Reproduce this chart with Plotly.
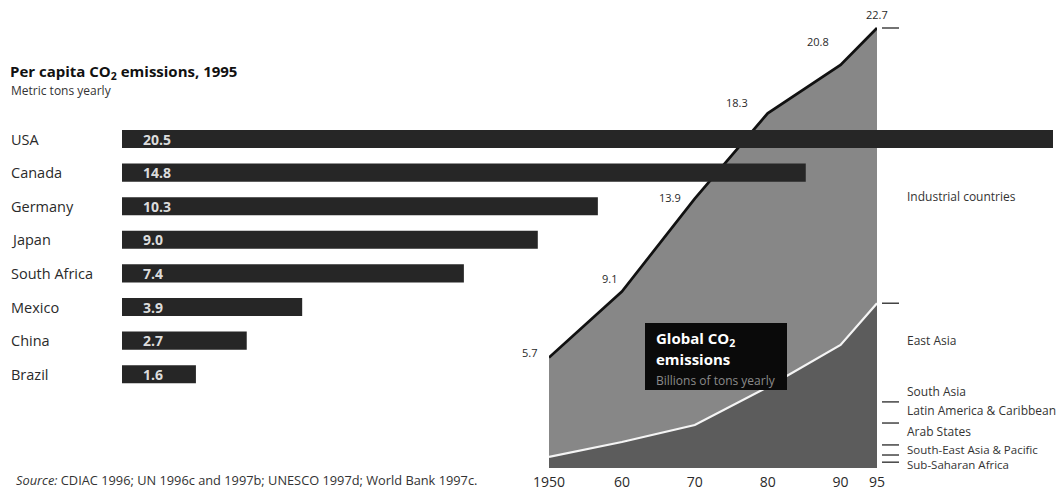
import plotly.graph_objects as go

W, H = 1058, 493

# Per capita emissions, 1995 (metric tons yearly)
countries = ["USA", "Canada", "Germany", "Japan", "South Africa", "Mexico", "China", "Brazil"]
per_capita = [20.5, 14.8, 10.3, 9.0, 7.4, 3.9, 2.7, 1.6]

# Global CO2 emissions (billions of tons yearly)
years = [1950, 1960, 1970, 1980, 1990, 1995]
global_total = [5.7, 9.1, 13.9, 18.3, 20.8, 22.7]
developing_total = [0.57, 1.34, 2.22, 4.18, 6.35, 8.5]
year_ticks = [1950, 1960, 1970, 1980, 1990, 1995]
year_tick_text = ["1950", "60", "70", "80", "90", "95"]

# Developing regions in 1995, stacked from the bottom
regions = ["Sub-Saharan Africa", "South-East Asia & Pacific", "Arab States",
           "Latin America & Caribbean", "South Asia", "East Asia"]
region_1995 = [0.3, 0.37, 0.52, 1.13, 1.09, 5.09]


def px(x):
    return x / W


def py(y):
    return 1 - y / H


FONT = "Open Sans"
TXT = "#2a2a2a"

fig = go.Figure()

# ---- stacked area: industrial (light) over developing (dark) ----
fig.add_trace(go.Scatter(
    x=years, y=global_total, mode="lines", fill="tozeroy",
    fillcolor="#878787", line=dict(color="#111111", width=2.7),
    xaxis="x", yaxis="y", hoverinfo="skip", showlegend=False))
fig.add_trace(go.Scatter(
    x=years, y=developing_total, mode="lines", fill="tozeroy",
    fillcolor="#5c5c5c", line=dict(width=0),
    xaxis="x", yaxis="y", hoverinfo="skip", showlegend=False))
fig.add_trace(go.Scatter(
    x=years, y=developing_total, mode="lines",
    line=dict(color="#f4f4f4", width=2.2),
    xaxis="x", yaxis="y", hoverinfo="skip", showlegend=False))

# ---- horizontal bars, drawn over the area chart ----
fig.add_trace(go.Bar(
    x=per_capita, y=countries, orientation="h",
    marker=dict(color="#262626", line=dict(width=0)),
    width=0.54, xaxis="x2", yaxis="y2", hoverinfo="skip", showlegend=False))

annotations = []

# country names and bar values
for c, v in zip(countries, per_capita):
    annotations.append(dict(
        x=px(9), xref="paper", y=c, yref="y2", text=c, showarrow=False,
        xanchor="left", yanchor="middle",
        font=dict(family=FONT, size=14.5, color=TXT)))
    annotations.append(dict(
        x=0, xref="x2", y=c, yref="y2", text=f"<b>{v:.1f}</b>", showarrow=False,
        xanchor="left", yanchor="middle", xshift=19,
        font=dict(family=FONT, size=14, color="#dcdcdc")))

# values along the global total line
value_offsets = [(-20, 5), (-12, 13), (-25, 1), (-31, 11), (-23, 23), (0, 14)]
for yr, v, (dx, dy) in zip(years, global_total, value_offsets):
    annotations.append(dict(
        x=yr, xref="x", y=v, yref="y", text=f"{v:.1f}", showarrow=False,
        xanchor="center", yanchor="middle", xshift=dx, yshift=dy,
        font=dict(family=FONT, size=11, color=TXT)))

# titles
annotations.append(dict(
    x=px(8), xref="paper", y=py(72), yref="paper",
    text="<b>Per capita CO<sub>2</sub> emissions, 1995</b>", showarrow=False,
    xanchor="left", yanchor="middle", font=dict(family=FONT, size=15, color="#111")))
annotations.append(dict(
    x=px(9), xref="paper", y=py(91), yref="paper",
    text="Metric tons yearly", showarrow=False,
    xanchor="left", yanchor="middle", font=dict(family=FONT, size=12, color="#333")))

# source line
annotations.append(dict(
    x=px(14), xref="paper", y=py(480), yref="paper",
    text="<i>Source:</i> CDIAC 1996; UN 1996c and 1997b; UNESCO 1997d; World Bank 1997c.",
    showarrow=False, xanchor="left", yanchor="middle",
    font=dict(family=FONT, size=12.8, color="#333")))

# black caption box
annotations.append(dict(
    x=px(654), xref="paper", y=py(339), yref="paper",
    text="<b>Global CO<sub>2</sub></b>", showarrow=False, xanchor="left", yanchor="middle",
    font=dict(family=FONT, size=15, color="white")))
annotations.append(dict(
    x=px(654), xref="paper", y=py(359), yref="paper",
    text="<b>emissions</b>", showarrow=False, xanchor="left", yanchor="middle",
    font=dict(family=FONT, size=15, color="white")))
annotations.append(dict(
    x=px(654), xref="paper", y=py(380), yref="paper",
    text="Billions of tons yearly", showarrow=False, xanchor="left", yanchor="middle",
    font=dict(family=FONT, size=12, color="#8a8a8a")))

# group labels at right
right_labels = [("Industrial countries", 196, 12), ("East Asia", 340, 12),
                ("South Asia", 391, 12), ("Latin America & Caribbean", 410, 12),
                ("Arab States", 431, 12), ("South-East Asia & Pacific", 449, 11.5),
                ("Sub-Saharan Africa", 464, 11.5)]
for name, yy, fs in right_labels:
    annotations.append(dict(
        x=px(905), xref="paper", y=py(yy), yref="paper", text=name, showarrow=False,
        xanchor="left", yanchor="middle", font=dict(family=FONT, size=fs, color="#333")))

shapes = [dict(type="rect", xref="paper", yref="paper",
               x0=px(645), x1=px(787), y0=py(390), y1=py(323),
               fillcolor="#0a0a0a", line=dict(width=0), layer="above")]

# right-side ticks at the 1995 totals and region boundaries
tick_levels = [global_total[-1]]
acc = 0
for v in region_1995:
    acc += v
    tick_levels.append(acc)
for lv in tick_levels:
    shapes.append(dict(type="line", xref="paper", yref="y",
                       x0=px(882), x1=px(899), y0=lv, y1=lv,
                       line=dict(color="#444", width=1.5)))

zero_px, top_px = 468, 28
scale = (zero_px - top_px) / global_total[-1]
y_top = global_total[-1] + (top_px - 20) / scale

bar_left, bar_right, bar_scale = 122, 1053, 46.2
row_h = 33.6
bar_top = 139 - row_h / 2
bar_bottom = bar_top + row_h * len(countries)

fig.update_layout(
    width=W, height=H, margin=dict(l=0, r=0, t=0, b=0, autoexpand=False),
    paper_bgcolor="white", plot_bgcolor="rgba(0,0,0,0)",
    font=dict(family=FONT, color=TXT),
    xaxis=dict(domain=[px(549), px(877)], range=[1950, 1995],
               tickvals=year_ticks, ticktext=year_tick_text,
               showgrid=False, zeroline=False, showline=False, ticks="",
               ticklabelstandoff=4,
               tickfont=dict(family=FONT, size=14, color=TXT), fixedrange=True),
    yaxis=dict(domain=[py(zero_px), py(20)], range=[0, y_top], visible=False,
               fixedrange=True),
    xaxis2=dict(domain=[px(bar_left), px(bar_right)],
                range=[0, (bar_right - bar_left) / bar_scale], visible=False,
                anchor="y2", fixedrange=True),
    yaxis2=dict(domain=[py(bar_bottom), py(bar_top)], categoryorder="array",
                categoryarray=countries, autorange="reversed", visible=False,
                anchor="x2", fixedrange=True),
    annotations=annotations, shapes=shapes,
)

fig.write_html("out.html")
